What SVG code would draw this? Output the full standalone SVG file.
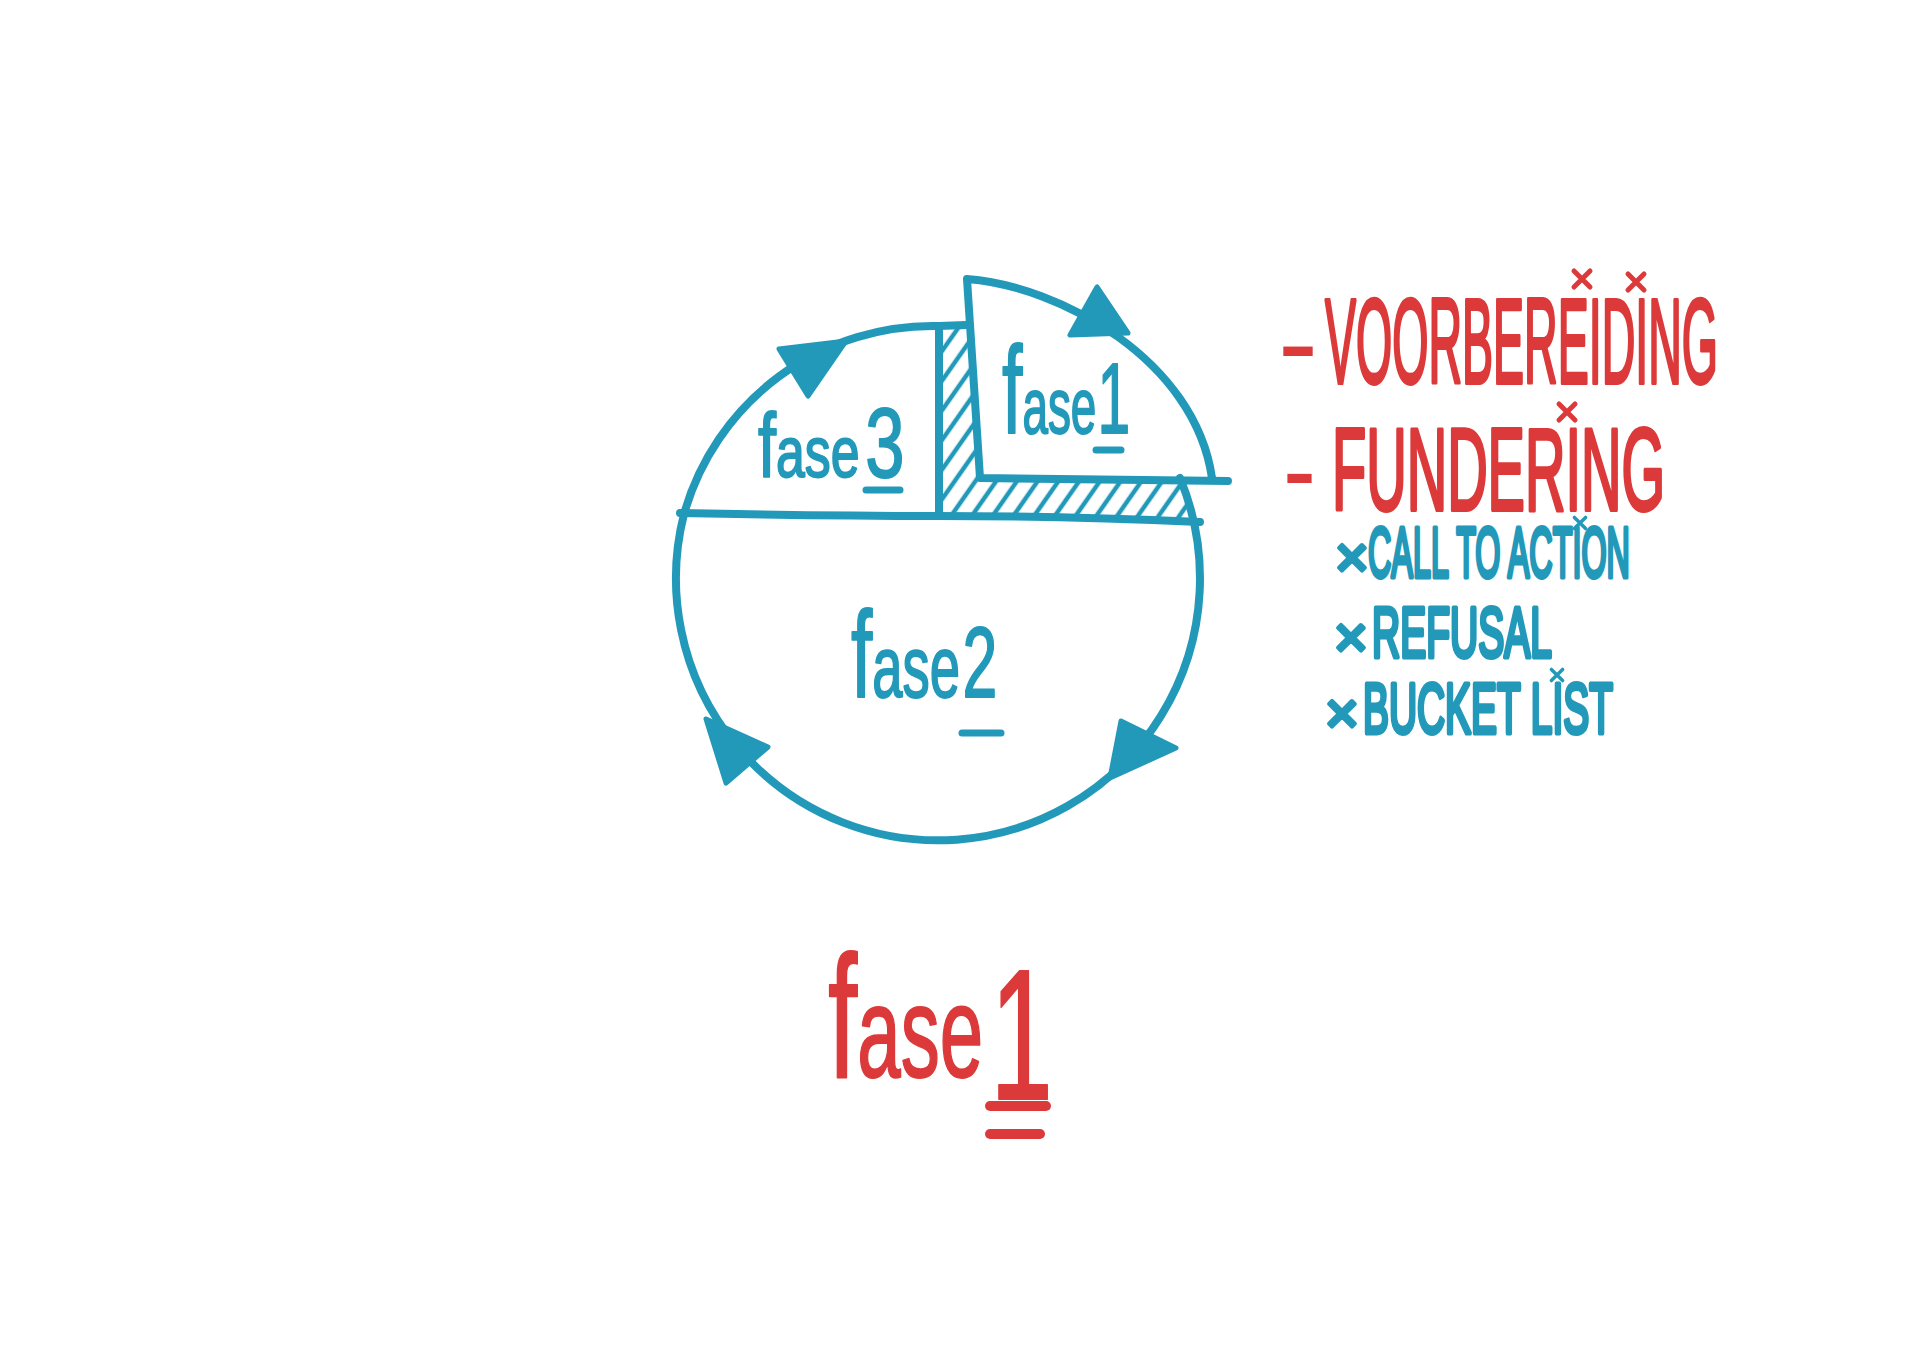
<svg xmlns="http://www.w3.org/2000/svg" width="1920" height="1353" viewBox="0 0 1920 1353">
<style>
.ln{fill:none;stroke:#2399BA;stroke-width:8;stroke-linecap:round;stroke-linejoin:round}
.arr{fill:#2399BA;stroke:#2399BA;stroke-width:5;stroke-linejoin:round}
.bl{fill:#2399BA;stroke:#2399BA;stroke-width:2;stroke-linejoin:round;font-family:"Liberation Sans",Arial,sans-serif}
.rd{fill:#DC3A3A;stroke:#DC3A3A;stroke-width:2;stroke-linejoin:round;font-family:"Liberation Sans",Arial,sans-serif}
.bl.cap{stroke-width:5}
.rd.cap{stroke-width:4}
.dash{stroke-width:0}
.mul{stroke-width:4;font-size:58px}
.barb{stroke:#2399BA;stroke-width:7;stroke-linecap:round}
.barr{stroke:#DC3A3A;stroke-width:10;stroke-linecap:round}
.xb{fill:none;stroke:#2399BA;stroke-width:5;stroke-linecap:round}
.xr{fill:none;stroke:#DC3A3A;stroke-width:5;stroke-linecap:round}
</style>
<defs>
<pattern id="hatch" patternUnits="userSpaceOnUse" width="17" height="17" patternTransform="rotate(35)">
<line x1="4" y1="0" x2="4" y2="17" stroke="#2399BA" stroke-width="4.5"/>
</pattern>
<path id="xm" d="M -8 -8 L 8 8 M 8 -8 L -8 8"/>
</defs>
<rect width="1920" height="1353" fill="#FFFFFF"/>

<g id="connectors">
<path id="hatch-strip" d="M 939 330 L 970 328 L 980 478 L 1179 480 A 262 262 0 0 1 1193 520 L 939 515 Z" fill="url(#hatch)"/>
<path class="ln" d="M 684 514 A 258 258 0 0 1 939 326 L 966 325"/>
<path class="ln" d="M 939 328 L 939 516"/>
<path class="ln" d="M 680 513 Q 820 516 939 516 T 1200 522"/>
<path class="ln" d="M 1180 478 A 262 262 0 1 1 684 514"/>
<polygon class="arr" points="846,341 779,349 808,396"/>
<polygon class="arr" points="1128,333 1097,287 1070,335"/>
<polygon class="arr" points="1110,778 1121,721 1176,748"/>
<polygon class="arr" points="706,719 768,747 726,783"/>
</g>

<g id="node-fase1-slice">
<path class="ln" d="M 1228 481 L 980 478 L 967 279 C 1060 286 1195 360 1212 478"/>
<text class="bl" transform="translate(1002,433) scale(0.588,1)"><tspan font-size="125">f</tspan><tspan font-size="78">ase</tspan><tspan font-size="100" dx="2">1</tspan></text>
<line class="barb" x1="1096" y1="450" x2="1121" y2="450"/>
</g>

<g id="node-fase3">
<text class="bl" transform="translate(758,477) scale(0.72,1)"><tspan font-size="90">f</tspan><tspan font-size="72">ase</tspan><tspan font-size="98" dx="8">3</tspan></text>
<line class="barb" x1="866" y1="490" x2="900" y2="490"/>
</g>

<g id="node-fase2">
<text class="bl" transform="translate(851,697) scale(0.626,1)"><tspan font-size="122">f</tspan><tspan font-size="87">ase</tspan><tspan font-size="100" dx="4">2</tspan></text>
<line class="barb" x1="962" y1="733" x2="1001" y2="733"/>
</g>

<g id="node-list">
<text class="rd cap" y="383" font-size="120"><tspan class="dash" x="1278" textLength="40" lengthAdjust="spacingAndGlyphs">-</tspan><tspan x="1325" textLength="393" lengthAdjust="spacingAndGlyphs">VOORBEREIDING</tspan></text>
<use href="#xm" class="xr" transform="translate(1582,279)"/>
<use href="#xm" class="xr" transform="translate(1636,282)"/>
<text class="rd cap" y="510" font-size="116"><tspan class="dash" x="1283" textLength="33" lengthAdjust="spacingAndGlyphs">-</tspan><tspan x="1332" textLength="333" lengthAdjust="spacingAndGlyphs">FUNDERING</tspan></text>
<use href="#xm" class="xr" transform="translate(1567,412)"/>
<text class="bl cap" y="577" font-size="70"><tspan class="mul" x="1335">×</tspan><tspan x="1368" textLength="262" lengthAdjust="spacingAndGlyphs">CALL TO ACTION</tspan></text>
<use href="#xm" class="xb" transform="translate(1580,523) scale(0.7)"/>
<text class="bl cap" y="657" font-size="70"><tspan class="mul" x="1334">×</tspan><tspan x="1372" textLength="180" lengthAdjust="spacingAndGlyphs">REFUSAL</tspan></text>
<text class="bl cap" y="733" font-size="70"><tspan class="mul" x="1325">×</tspan><tspan x="1363" textLength="250" lengthAdjust="spacingAndGlyphs">BUCKET LIST</tspan></text>
<use href="#xm" class="xb" transform="translate(1557,675) scale(0.7)"/>
</g>

<g id="node-title">
<text class="rd" transform="translate(828,1077) scale(0.605,1)"><tspan font-size="174">f</tspan><tspan font-size="129">ase</tspan><tspan font-size="186" dx="12" dy="22">1</tspan></text>
<line class="barr" x1="990" y1="1106" x2="1046" y2="1106"/>
<line class="barr" x1="990" y1="1134" x2="1040" y2="1134"/>
</g>
</svg>
